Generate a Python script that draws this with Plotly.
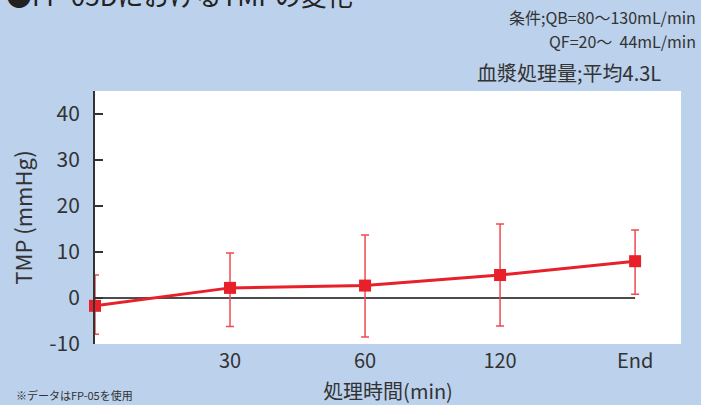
import plotly.graph_objects as go

categories = ["", "30", "60", "120", "End"]
tmp_mean = [-1.7, 2.2, 2.7, 5.0, 8.0]
err_plus = [6.7, 7.6, 11.0, 11.1, 6.8]
err_minus = [6.2, 8.4, 11.2, 11.1, 7.2]

y_ticks = [-10, 0, 10, 20, 30, 40]
y_ticktext = ["-10", "0", "10", "20", "30", "40"]

RED = "#E8202A"
BG = "#BBD1EC"
TXT = "#333333"
FONT = "Noto Sans CJK JP"

xs = list(range(len(categories)))

fig = go.Figure()
fig.add_shape(type="line", xref="x", yref="y", x0=0, x1=4, y0=0, y1=0,
              line=dict(color="#111111", width=1.5), layer="below")

fig.add_trace(go.Scatter(
    x=xs, y=tmp_mean, mode="lines+markers",
    line=dict(color=RED, width=3),
    marker=dict(symbol="square", size=12, color=RED),
    error_y=dict(type="data", symmetric=False, array=err_plus, arrayminus=err_minus,
                 color="#EE4A52", thickness=1.5, width=4),
    cliponaxis=False, showlegend=False,
))

fig.update_layout(
    width=701, height=405,
    margin=dict(l=95, r=20, t=91, b=61),
    paper_bgcolor=BG, plot_bgcolor="white",
    font=dict(family=FONT, color=TXT),
    xaxis=dict(range=[0, 4.34], tickmode="array", tickvals=xs, ticktext=categories,
               showgrid=False, zeroline=False, showline=False, ticks="", automargin=False,
               tickfont=dict(size=20, color=TXT), ticklabelstandoff=3,
               title=dict(text="処理時間(min)", font=dict(size=20, color=TXT), standoff=11)),
    yaxis=dict(range=[-10, 45], tickmode="array", tickvals=y_ticks, ticktext=y_ticktext,
               showgrid=False, zeroline=False, showline=True, linecolor="#333333", linewidth=2,
               ticks="inside", ticklen=8, tickcolor="#333333", tickwidth=2, automargin=False,
               tickfont=dict(size=21, color=TXT), ticklabelstandoff=9,
               title=dict(text="TMP (mmHg)", font=dict(size=22, color=TXT), standoff=10)),
)

anns = [
    dict(text="●FP-05DにおけるTMPの変化", x=-0.155, y=1.30, xanchor="left", yanchor="bottom",
         font=dict(size=26, color="#222222")),
    dict(text="条件;QB=80～130mL/min", x=1.029, y=(344-17)/253, xanchor="right", yanchor="middle",
         font=dict(size=16, color=TXT)),
    dict(text="QF=20～  44mL/min", x=1.029, y=(344-41)/253, xanchor="right", yanchor="middle",
         font=dict(size=16, color=TXT)),
    dict(text="血漿処理量;平均4.3L", x=(663-95)/586, y=(344-72)/253, xanchor="right", yanchor="middle",
         font=dict(size=20, color=TXT)),
    dict(text="※データはFP-05を使用", x=(14-95)/586, y=(344-395)/253, xanchor="left", yanchor="middle",
         font=dict(size=11, color=TXT)),
]
for a in anns:
    a.update(xref="paper", yref="paper", showarrow=False)
    fig.add_annotation(**a)

fig.write_html("out.html", config={"displayModeBar": False},
               post_script="document.body.style.margin='0';document.body.style.overflow='hidden';")
